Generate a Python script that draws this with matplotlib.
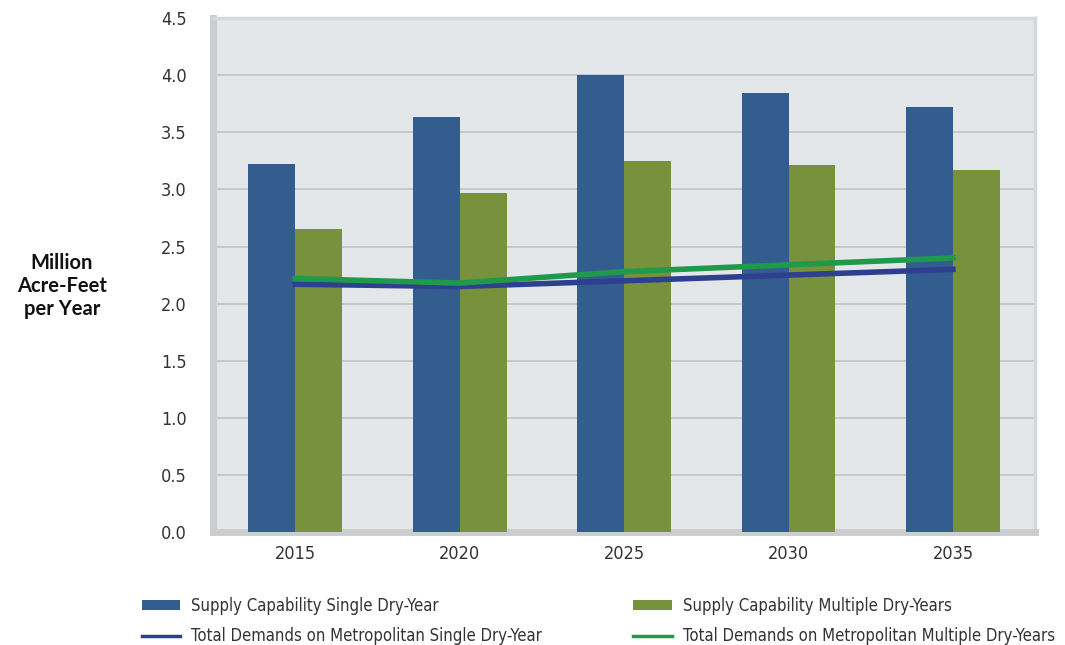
import matplotlib
matplotlib.use('Agg')
import matplotlib.pyplot as plt
import numpy as np

years = ['2015', '2020', '2025', '2030', '2035']
supply_single = [3.22, 3.63, 4.00, 3.84, 3.72]
supply_multi = [2.65, 2.97, 3.25, 3.21, 3.17]
demand_single = [2.17, 2.15, 2.20, 2.25, 2.30]
demand_multi = [2.22, 2.18, 2.28, 2.34, 2.40]

plt.rcParams['font.family'] = ['DejaVu Sans']
plt.rcParams['font.stretch'] = 'condensed'

fig = plt.figure(figsize=(10.65, 6.45), dpi=100)
ax = fig.add_axes([0.2, 0.175, 0.772, 0.797])
ax.set_facecolor('#e3e7ea')

x = np.arange(len(years))
w = 0.285
b1 = ax.bar(x - w / 2, supply_single, w, color='#335d8e', zorder=3,
            label='Supply Capability Single Dry-Year')
b2 = ax.bar(x + w / 2, supply_multi, w, color='#77913d', zorder=3,
            label='Supply Capability Multiple Dry-Years')
l1, = ax.plot(x, demand_single, color='#2e3f8f', lw=4, zorder=4,
              label='Total Demands on Metropolitan Single Dry-Year')
l2, = ax.plot(x, demand_multi, color='#1f9a4a', lw=4, zorder=5,
              label='Total Demands on Metropolitan Multiple Dry-Years')

ax.set_xlim(-0.5, 4.5)
ax.set_ylim(0, 4.5)
ax.set_yticks(np.arange(0, 4.51, 0.5))
ax.set_yticklabels(['%.1f' % v for v in np.arange(0, 4.51, 0.5)])
ax.set_xticks(x)
ax.set_xticklabels(years)
ax.grid(axis='y', color='#c0c3c6', lw=1.2, zorder=1)
ax.tick_params(length=0, labelsize=13, colors='#333333')
ax.tick_params(axis='y', pad=19)
ax.tick_params(axis='x', pad=9)

# 3D-ish frame
ax.spines['left'].set_color('#cbcdcf')
ax.spines['left'].set_linewidth(5)
ax.spines['bottom'].set_color('#cbcdcf')
ax.spines['bottom'].set_linewidth(5)
ax.spines['top'].set_color('#d6d8da')
ax.spines['top'].set_linewidth(2.5)
ax.spines['right'].set_color('#d6d8da')
ax.spines['right'].set_linewidth(2.5)

fig.text(0.058, 0.557, 'Million\nAcre-Feet\nper Year', ha='center', va='center',
         fontsize=14.5, fontweight='bold', family=['Lato', 'DejaVu Sans'],
         stretch='normal', linespacing=1.2, color='#111111')

fig.legend(handles=[b1, l1, b2, l2], ncol=2, loc='upper left',
           bbox_to_anchor=(0.119, 0.098), frameon=False, fontsize=12,
           handlelength=2.3, handleheight=0.6, columnspacing=5.5,
           labelspacing=0.75, handletextpad=0.65, labelcolor='#333333')
for ln in fig.legends[0].get_lines():
    ln.set_linewidth(2.5)

plt.savefig('out.png', dpi=100)
